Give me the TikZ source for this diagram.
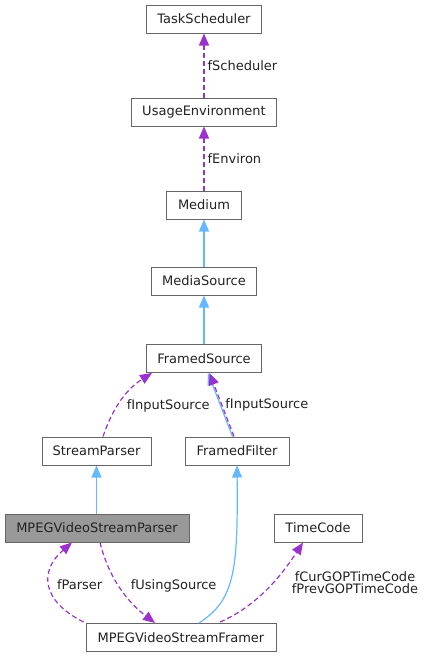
\documentclass[tikz,border=0pt]{standalone}
\usepackage{fontspec}
\setmainfont{DejaVu Sans}
\usetikzlibrary{arrows.meta,calc}
\definecolor{lcinh}{HTML}{63B8FF}
\definecolor{lcuse}{HTML}{9A32CD}
\definecolor{lcbox}{HTML}{666666}
\definecolor{lcself}{HTML}{999999}
\definecolor{lctext}{HTML}{222222}

\begin{document}
\begin{tikzpicture}[%
    x=1pt, y=1pt,               % one unit is one pixel of the graph
    >={Triangle[length=12pt,width=10pt]},
    font=\fontsize{13}{15}\selectfont,
    text=lctext
    ]
% -------------------------------------------------
% Box and connector styles
\tikzset{
  base/.style={draw=lcbox, line width=1pt, rectangle, minimum height=28pt,
    inner sep=0pt, fill=white},
  cls/.style={base},
  self/.style={base, fill=lcself},
  % -------------------------------------------------
  inh/.style={->, draw=lcinh, line width=1.2pt},
  use/.style={->, draw=lcuse, line width=1.2pt, dash pattern=on 5pt off 3pt},
  lbl/.style={inner sep=3pt}
}
\useasboundingbox (0,0) rectangle (424,-657);
% -------------------------------------------------
% The class boxes, top to bottom
\node [cls, minimum width=115pt] (ts)   at (204,-19)  {TaskScheduler};
\node [cls, minimum width=145pt] (ue)   at (204,-112) {UsageEnvironment};
\node [cls, minimum width=75pt]  (med)  at (204,-205) {Medium};
\node [cls, minimum width=105pt] (ms)   at (204,-281) {MediaSource};
\node [cls, minimum width=115pt] (fs)   at (204,-358.5) {FramedSource};
\node [cls, minimum width=109pt] (sp)   at (96.5,-451)  {StreamParser};
\node [cls, minimum width=104pt] (ff)   at (237,-451)   {FramedFilter};
\node [self, minimum width=184pt] (mvsp) at (97,-528)   {MPEGVideoStreamParser};
\node [cls, minimum width=88pt]  (tc)   at (318,-528)   {TimeCode};
\node [cls, minimum width=190pt] (mvsf) at (181,-637.5) {MPEGVideoStreamFramer};

% -------------------------------------------------
% Straight connectors
\draw [use] (ue.north) -- node [lbl, right] {fScheduler} (ts.south);
\draw [use] (med.north) -- node [lbl, right] {fEnviron} (ue.south);
\draw [inh] (ms.north) -- (med.south);
\draw [inh] (fs.north) -- (ms.south);
\draw [inh] (mvsp.north -| sp) -- (sp.south);
\draw [inh] ($(ff.north)+(-4.5,0)$) -- ($(fs.south)+(4,0)$);
\draw [use] ($(ff.north)+(-3,0)$) -- node [lbl, right, pos=0.5] {fInputSource}
  ($(fs.south)+(5.5,0)$);

% -------------------------------------------------
% The curved connectors
\draw [use] ($(sp.north)+(6.5,0)$) .. controls (112,-410) and (125,-390) ..
  node [lbl, right, pos=0.42, xshift=6pt] {fInputSource}
  ($(fs.south west)+(6,0)$);
\draw [inh] ($(mvsf.north)+(18,0)$) .. controls (235,-600) and (238,-570) ..
  (ff.south);
\draw [use] ($(mvsf.north west)+(-2,1)$) .. controls (40,-600) and (40,-570) ..
  node [lbl, right, pos=0.5, xshift=4pt] {fParser} ($(mvsp.south)+(-25,0)$);
\draw [use] ($(mvsp.south)+(3,0)$) .. controls (108,-575) and (125,-600) ..
  node [lbl, right, pos=0.5, xshift=8pt] {fUsingSource} ($(mvsf.north)+(-26,0)$);
\draw [use] ($(mvsf.north)+(39,1)$) .. controls (260,-605) and (285,-570) ..
  ($(tc.south)+(-15,0)$);

% -------------------------------------------------
% Two members point to the TimeCode box
\node [lbl, align=center] (tcl) at (355,-582.5)
  {fCurGOPTimeCode\\[-2.5pt]fPrevGOPTimeCode};
\end{tikzpicture}
\end{document}
